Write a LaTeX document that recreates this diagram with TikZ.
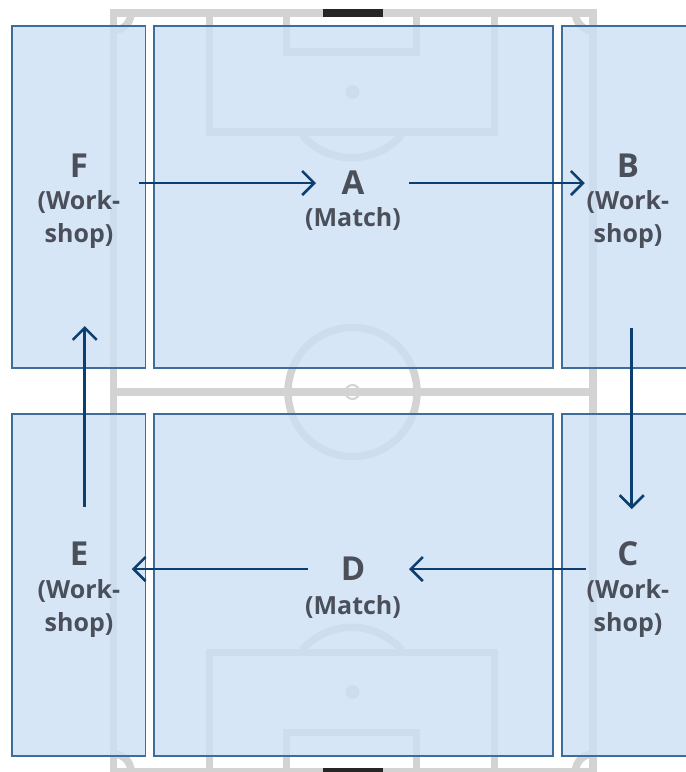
\documentclass[tikz,border=0pt]{standalone}
\usepackage{fontspec}
\setmainfont{Open Sans}
\usetikzlibrary{arrows.meta}
\definecolor{pitch}{RGB}{211,211,211}
\definecolor{boxfill}{RGB}{206,224,244}
\definecolor{boxline}{RGB}{62,108,155}
\definecolor{flowc}{RGB}{13,62,112}
\definecolor{labelc}{RGB}{74,79,90}
\tikzset{
  pitchline/.style={draw=pitch,line width=7.5pt},
  thin pitch/.style={draw=pitch,line width=2pt},
  zone/.style={rectangle,draw=boxline,line width=1.3pt,fill=boxfill,fill opacity=0.82,draw opacity=1,inner sep=0pt,outer sep=0pt,minimum height=342pt},
  side/.style={zone,minimum width=133.5pt},
  wide/.style={zone,minimum width=399pt},
  letter/.style={font=\fontsize{33}{33}\selectfont\bfseries,text=labelc,inner sep=0pt},
  sublabel/.style={font=\fontsize{25}{33}\selectfont\bfseries,text=labelc,align=center,inner sep=0pt},
  flow/.style={draw=flowc,line width=2.6pt,-{Straight Barb[length=12pt,width=24pt,line width=2.6pt]}},
}
\begin{document}
\begin{tikzpicture}[x=1pt,y=-1pt]
\useasboundingbox (0,0) rectangle (686,772);
\clip (0,0) rectangle (686,772);
% pitch
\draw[pitchline] (113.5,13) rectangle (593,771.5);
\draw[pitchline] (113.5,392) -- (593,392);
\draw[pitchline] (352.5,392) circle[radius=64.5pt];
\draw[thin pitch] (352.5,392) circle[radius=7pt];
\draw[pitchline] (209.5,13) rectangle (494.5,132);
\draw[pitchline] (286.5,13) rectangle (416.5,52);
\fill[pitch] (352.5,92) circle[radius=7pt];
\draw[pitchline] (302,135) arc[start angle=221,end angle=319,radius=66pt];
\draw[pitchline] (209.5,771.5) rectangle (494.5,652.5);
\draw[pitchline] (286.5,771.5) rectangle (416.5,732.5);
\fill[pitch] (352.5,692) circle[radius=7pt];
\draw[pitchline] (302,650) arc[start angle=139,end angle=41,radius=66pt];
\draw[pitchline] (131,13) arc[start angle=0,end angle=-90,radius=17.5pt];
\draw[pitchline] (575.5,13) arc[start angle=180,end angle=270,radius=17.5pt];
\draw[pitchline] (131,771.5) arc[start angle=0,end angle=90,radius=17.5pt];
\draw[pitchline] (575.5,771.5) arc[start angle=180,end angle=90,radius=17.5pt];
\fill[black!85] (323,9) rectangle (383,16.5);
\fill[black!85] (323,768) rectangle (383,775);
% zones
\node[side] (zoneF) at (78.75,197) {};
\node[wide] (zoneA) at (353.5,197) {};
\node[side] (zoneB) at (628.75,197) {};
\node[side] (zoneE) at (78.75,585) {};
\node[wide] (zoneD) at (353.5,585) {};
\node[side] (zoneC) at (628.75,585) {};
% labels
\node[letter] (F) at (79,166) {F};
\node[sublabel] (Fs) at (79,220) {(Work-\\shop)};
\node[letter] (A) at (353,183) {A};
\node[sublabel] (As) at (353,219) {(Match)};
\node[letter] (B) at (628,166) {B};
\node[sublabel] (Bs) at (628,220) {(Work-\\shop)};
\node[letter] (E) at (79,554) {E};
\node[sublabel] (Es) at (79,608) {(Work-\\shop)};
\node[letter] (D) at (353,569) {D};
\node[sublabel] (Ds) at (353,607) {(Match)};
\node[letter] (C) at (628,554) {C};
\node[sublabel] (Cs) at (628,608) {(Work-\\shop)};
% connectors
\draw[flow,shorten <=60pt,shorten >=37pt] (zoneF.center |- A.center) -- (A.center);
\draw[flow,shorten <=56pt,shorten >=44pt] (A.center) -- (zoneB.center |- A.center);
\draw[flow,shorten <=131pt,shorten >=76pt] ([xshift=3pt]zoneB.center) -- ([xshift=3pt]zoneC.center);
\draw[flow,shorten <=43pt,shorten >=56pt] (zoneC.center |- D.center) -- (D.center);
\draw[flow,shorten <=45pt,shorten >=53pt] (D.center) -- (zoneE.center |- D.center);
\draw[flow,shorten <=78pt,shorten >=129pt] ([xshift=6pt]zoneE.center) -- ([xshift=6pt]zoneF.center);
\end{tikzpicture}
\end{document}
